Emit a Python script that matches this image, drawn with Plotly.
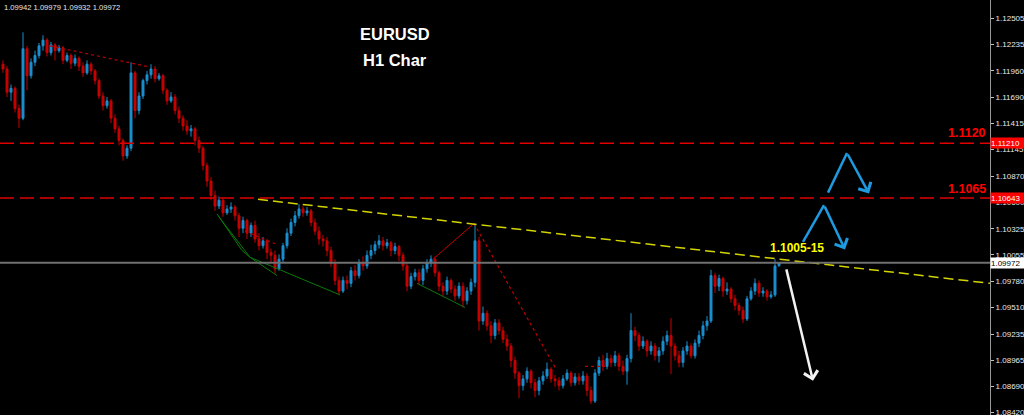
import plotly.graph_objects as go

# ---------------- data (EURUSD H1) ----------------
bar_index = list(range(195))

open_ = [
    1.1203, 1.1198, 1.1174, 1.1178, 1.1157, 1.1147, 1.1219, 1.1191, 1.1205, 1.1212,
    1.1222, 1.1228, 1.1215, 1.1223, 1.1217, 1.1220, 1.1207, 1.1212, 1.1204, 1.1209,
    1.1201, 1.1194, 1.1203, 1.1196, 1.1186, 1.1170, 1.1160, 1.1165, 1.1147, 1.1136,
    1.1124, 1.1108, 1.1116, 1.1194, 1.1155, 1.1170, 1.1186, 1.1192, 1.1198, 1.1188,
    1.1191, 1.1176, 1.1165, 1.1169, 1.1155, 1.1147, 1.1139, 1.1134, 1.1136, 1.1124,
    1.1116, 1.1098, 1.1082, 1.1067, 1.1056, 1.1062, 1.1049, 1.1053, 1.1055, 1.1046,
    1.1033, 1.1041, 1.1028, 1.1036, 1.1022, 1.1015, 1.1020, 1.1008, 1.1005, 1.0991,
    1.1001, 1.1015, 1.1028, 1.1039, 1.1046, 1.1053, 1.1049, 1.1051, 1.1039, 1.1030,
    1.1022, 1.1020, 1.1010, 1.0997, 1.0979, 1.0968, 1.0979, 1.0976, 1.0989, 1.0984,
    1.0997, 1.0994, 1.1005, 1.1010, 1.1016, 1.1020, 1.1015, 1.1018, 1.1010, 1.1014,
    1.1005, 1.0994, 1.0973, 1.0983, 1.0987, 1.0979, 1.0991, 1.0997, 1.1001, 1.0987,
    1.0973, 1.0968, 1.0979, 1.0970, 1.0963, 1.0973, 1.0958, 1.0968, 1.0977, 1.1020,
    1.0937, 1.0945, 1.0932, 1.0922, 1.0935, 1.0927, 1.0918, 1.0911, 1.0896, 1.0883,
    1.0870, 1.0877, 1.0885, 1.0873, 1.0865, 1.0875, 1.0880, 1.0887, 1.0877, 1.0875,
    1.0870, 1.0877, 1.0883, 1.0873, 1.0879, 1.0875, 1.0880, 1.0865, 1.0854, 1.0883,
    1.0896, 1.0890, 1.0898, 1.0894, 1.0901, 1.0890, 1.0885, 1.0898, 1.0927, 1.0922,
    1.0911, 1.0916, 1.0906, 1.0911, 1.0901, 1.0906, 1.0916, 1.0922, 1.0911, 1.0901,
    1.0894, 1.0906, 1.0911, 1.0901, 1.0914, 1.0922, 1.0932, 1.0937, 1.0984, 1.0973,
    1.0981, 1.0968, 1.0970, 1.0960, 1.0953, 1.0948, 1.0939, 1.0960, 1.0968, 1.0976,
    1.0966, 1.0968, 1.0962, 1.0964, 1.09942,
]

high = [
    1.1207, 1.1201, 1.1182, 1.1180, 1.1161, 1.1236, 1.1222, 1.1209, 1.1217, 1.1225,
    1.1233, 1.1230, 1.1226, 1.1225, 1.1223, 1.1222, 1.1215, 1.1214, 1.1213, 1.1211,
    1.1205, 1.1207, 1.1205, 1.1198, 1.1188, 1.1174, 1.1169, 1.1167, 1.1151, 1.1139,
    1.1126, 1.1119, 1.1205, 1.1196, 1.1174, 1.1188, 1.1196, 1.1203, 1.1201, 1.1194,
    1.1193, 1.1178, 1.1174, 1.1172, 1.1159, 1.1150, 1.1145, 1.1140, 1.1138, 1.1128,
    1.1118, 1.1101, 1.1086, 1.1072, 1.1066, 1.1064, 1.1057, 1.1060, 1.1057, 1.1049,
    1.1045, 1.1043, 1.1039, 1.1041, 1.1028, 1.1024, 1.1022, 1.1012, 1.1010, 1.1006,
    1.1018, 1.1033, 1.1043, 1.1051, 1.1058, 1.1056, 1.1055, 1.1053, 1.1043, 1.1035,
    1.1026, 1.1024, 1.1014, 1.1001, 1.0983, 1.0983, 1.0984, 1.0993, 1.0995, 1.1001,
    1.1004, 1.1010, 1.1016, 1.1020, 1.1026, 1.1024, 1.1022, 1.1020, 1.1018, 1.1016,
    1.1008, 1.0997, 1.0987, 1.0991, 1.0991, 1.0995, 1.1001, 1.1005, 1.1004, 1.0989,
    1.0977, 1.0983, 1.0981, 1.0974, 1.0977, 1.0977, 1.0972, 1.0981, 1.1038, 1.1024,
    1.0952, 1.0948, 1.0937, 1.0939, 1.0939, 1.0931, 1.0923, 1.0914, 1.0900, 1.0885,
    1.0881, 1.0889, 1.0887, 1.0877, 1.0879, 1.0885, 1.0894, 1.0889, 1.0881, 1.0879,
    1.0881, 1.0887, 1.0885, 1.0883, 1.0883, 1.0885, 1.0883, 1.0869, 1.0887, 1.0900,
    1.0902, 1.0904, 1.0902, 1.0906, 1.0904, 1.0896, 1.0902, 1.0945, 1.0931, 1.0925,
    1.0921, 1.0918, 1.0916, 1.0914, 1.0910, 1.0921, 1.0927, 1.0940, 1.0914, 1.0906,
    1.0910, 1.0916, 1.0914, 1.0918, 1.0927, 1.0937, 1.0942, 1.0990, 1.0987, 1.0985,
    1.0983, 1.0977, 1.0972, 1.0964, 1.0956, 1.0952, 1.0963, 1.0972, 1.0981, 1.0979,
    1.0972, 1.0970, 1.0968, 1.1001, 1.09979,
]

low = [
    1.1194, 1.1169, 1.1165, 1.1153, 1.1137, 1.1145, 1.1176, 1.1188, 1.1201, 1.1209,
    1.1217, 1.1211, 1.1212, 1.1207, 1.1215, 1.1203, 1.1205, 1.1198, 1.1201, 1.1196,
    1.1190, 1.1192, 1.1192, 1.1182, 1.1167, 1.1155, 1.1157, 1.1142, 1.1132, 1.1119,
    1.1103, 1.1105, 1.1113, 1.1147, 1.1151, 1.1167, 1.1182, 1.1188, 1.1184, 1.1186,
    1.1172, 1.1161, 1.1163, 1.1151, 1.1142, 1.1134, 1.1130, 1.1128, 1.1119, 1.1111,
    1.1093, 1.1076, 1.1062, 1.1051, 1.1053, 1.1045, 1.1047, 1.1049, 1.1041, 1.1024,
    1.1028, 1.1022, 1.1024, 1.1018, 1.1010, 1.1012, 1.1001, 1.0997, 1.0986, 1.0989,
    1.0997, 1.1012, 1.1025, 1.1035, 1.1043, 1.1045, 1.1046, 1.1035, 1.1026, 1.1016,
    1.1014, 1.1004, 1.0993, 1.0974, 1.0965, 1.0966, 1.0970, 1.0972, 1.0979, 1.0981,
    1.0989, 1.0991, 1.1001, 1.1006, 1.1012, 1.1010, 1.1012, 1.1004, 1.1006, 1.0999,
    1.0989, 1.0968, 1.0970, 1.0979, 1.0974, 1.0974, 1.0987, 1.0993, 1.0983, 1.0968,
    1.0963, 1.0964, 1.0966, 1.0958, 1.0960, 1.0951, 1.0954, 1.0964, 1.0972, 1.0927,
    1.0933, 1.0927, 1.0914, 1.0918, 1.0923, 1.0914, 1.0906, 1.0889, 1.0877, 1.0857,
    1.0865, 1.0873, 1.0867, 1.0858, 1.0860, 1.0871, 1.0877, 1.0873, 1.0869, 1.0865,
    1.0867, 1.0875, 1.0869, 1.0870, 1.0871, 1.0871, 1.0859, 1.0851, 1.0852, 1.0880,
    1.0885, 1.0887, 1.0889, 1.0890, 1.0885, 1.0881, 1.0871, 1.0894, 1.0916, 1.0906,
    1.0908, 1.0900, 1.0902, 1.0896, 1.0894, 1.0902, 1.0912, 1.0882, 1.0896, 1.0889,
    1.0889, 1.0902, 1.0898, 1.0898, 1.0910, 1.0918, 1.0927, 1.0935, 1.0966, 1.0968,
    1.0962, 1.0964, 1.0956, 1.0948, 1.0943, 1.0935, 1.0937, 1.0958, 1.0964, 1.0962,
    1.0962, 1.0958, 1.0960, 1.0962, 1.09932,
]

close = [
    1.1198, 1.1174, 1.1178, 1.1157, 1.1147, 1.1219, 1.1191, 1.1205, 1.1212, 1.1222,
    1.1228, 1.1215, 1.1223, 1.1217, 1.1220, 1.1207, 1.1212, 1.1204, 1.1209, 1.1201,
    1.1194, 1.1203, 1.1196, 1.1186, 1.1170, 1.1160, 1.1165, 1.1147, 1.1136, 1.1124,
    1.1108, 1.1116, 1.1194, 1.1155, 1.1170, 1.1186, 1.1192, 1.1198, 1.1188, 1.1191,
    1.1176, 1.1165, 1.1169, 1.1155, 1.1147, 1.1139, 1.1134, 1.1136, 1.1124, 1.1116,
    1.1098, 1.1082, 1.1067, 1.1056, 1.1062, 1.1049, 1.1053, 1.1055, 1.1046, 1.1033,
    1.1041, 1.1028, 1.1036, 1.1022, 1.1015, 1.1020, 1.1008, 1.1005, 1.0991, 1.1001,
    1.1015, 1.1028, 1.1039, 1.1046, 1.1053, 1.1049, 1.1051, 1.1039, 1.1030, 1.1022,
    1.1020, 1.1010, 1.0997, 1.0979, 1.0968, 1.0979, 1.0976, 1.0989, 1.0984, 1.0997,
    1.0994, 1.1005, 1.1010, 1.1016, 1.1020, 1.1015, 1.1018, 1.1010, 1.1014, 1.1005,
    1.0994, 1.0973, 1.0983, 1.0987, 1.0979, 1.0991, 1.0997, 1.1001, 1.0987, 1.0973,
    1.0968, 1.0979, 1.0970, 1.0963, 1.0973, 1.0958, 1.0968, 1.0977, 1.1020, 1.0937,
    1.0945, 1.0932, 1.0922, 1.0935, 1.0927, 1.0918, 1.0911, 1.0896, 1.0883, 1.0870,
    1.0877, 1.0885, 1.0873, 1.0865, 1.0875, 1.0880, 1.0887, 1.0877, 1.0875, 1.0870,
    1.0877, 1.0883, 1.0873, 1.0879, 1.0875, 1.0880, 1.0865, 1.0854, 1.0883, 1.0896,
    1.0890, 1.0898, 1.0894, 1.0901, 1.0890, 1.0885, 1.0898, 1.0927, 1.0922, 1.0911,
    1.0916, 1.0906, 1.0911, 1.0901, 1.0906, 1.0916, 1.0922, 1.0911, 1.0901, 1.0894,
    1.0906, 1.0911, 1.0901, 1.0914, 1.0922, 1.0932, 1.0937, 1.0984, 1.0973, 1.0981,
    1.0968, 1.0970, 1.0960, 1.0953, 1.0948, 1.0939, 1.0960, 1.0968, 1.0976, 1.0966,
    1.0968, 1.0962, 1.0964, 1.0994, 1.09972,
]

header_text = "1.09942 1.09979 1.09932 1.09972"
last_price = 1.09972
level_prices = [1.11210, 1.10643]
level_labels = ["1.1120", "1.1065"]
level_tags = ["1.11210", "1.10643"]

y_tick_vals = [1.12505, 1.12235, 1.11960, 1.11690, 1.11415, 1.11145, 1.10870, 1.10600,
               1.10325, 1.10055, 1.09780, 1.09510, 1.09235, 1.08965, 1.08690, 1.08420]
y_tick_text = ["1.12505", "1.12235", "1.11960", "1.11690", "1.11415", "1.11145", "1.10870", "1.10600",
               "1.10325", "1.10055", "1.09780", "1.09510", "1.09235", "1.08965", "1.08690", "1.08420"]

# drawn objects (bar index, price)
yellow_trend_x = [63.75, 246.75]
yellow_trend_y = [1.1063, 1.0976]
top_dotted_x = [11.75, 36.75]
top_dotted_y = [1.1222, 1.1200]
mid_dotted_x = [60.5, 68.0]
mid_dotted_y = [1.1030, 1.1017]
green_lines = [
    ([53.5, 59.75, 61.75], [1.1048, 1.1010, 1.1003]),
    ([53.75, 61.75], [1.1046, 1.1003]),
    ([61.75, 68.5], [1.1003, 1.0984]),
    ([61.75, 84.25], [1.1003, 1.0964]),
    ([103.5, 115.5], [1.0976, 1.0951]),
]
red_solid_x = [107.5, 117.75]
red_solid_y = [1.1001, 1.1038]
red_dotted_x = [117.75, 138.0]
red_dotted_y = [1.1038, 1.0889]
red_flat_x = [145.5, 150.5]
red_flat_y = [1.0890, 1.0890]
blue_arrow1_x = [200.0, 205.25, 210.5]
blue_arrow1_y = [1.1019, 1.1057, 1.1011]
blue_arrow2_x = [206.25, 211.0, 216.5]
blue_arrow2_y = [1.1070, 1.1111, 1.1069]
white_arrow_x = [195.75, 202.5]
white_arrow_y = [1.0992, 1.0875]
target_label = "1.1005-15"
target_label_pos = (198.5, 1.1013)

# ---------------- styles ----------------
UP = "#1a8fd0"
DN = "#c80000"
BLUE_ARROW = "#1e9be0"
SMALL = "Liberation Sans, Arial, sans-serif"
BOLD = "Arial, Liberation Sans, sans-serif"

fig = go.Figure()

fig.add_trace(go.Candlestick(
    x=bar_index, open=open_, high=high, low=low, close=close,
    increasing=dict(line=dict(color=UP, width=1), fillcolor=UP),
    decreasing=dict(line=dict(color=DN, width=1), fillcolor=DN),
    whiskerwidth=0, showlegend=False, hoverinfo="skip",
))


def add_line(xs, ys, color, width=1, dash="solid"):
    fig.add_trace(go.Scatter(x=xs, y=ys, mode="lines", showlegend=False, hoverinfo="skip",
                             line=dict(color=color, width=width, dash=dash)))


add_line(top_dotted_x, top_dotted_y, "#b40000", 1.2, "dot")
add_line(mid_dotted_x, mid_dotted_y, "#c00000", 1.2, "dot")
for gx, gy in green_lines:
    add_line(gx, gy, "#0a7a0a", 1)
add_line(red_solid_x, red_solid_y, "#c00000", 1)
add_line(red_dotted_x, red_dotted_y, "#c00000", 1.2, "dot")
add_line(red_flat_x, red_flat_y, "#c00000", 1.2, "dot")
add_line(yellow_trend_x, yellow_trend_y, "#d4d400", 1.5, "10px,5px")

# arrow bodies (all but final segment), then arrow annotations on final segment
add_line(blue_arrow1_x[:2], blue_arrow1_y[:2], BLUE_ARROW, 2.5)
add_line(blue_arrow2_x[:2], blue_arrow2_y[:2], BLUE_ARROW, 2.5)

shapes = []
for lp in level_prices:
    shapes.append(dict(type="line", xref="paper", x0=0, x1=1, yref="y", y0=lp, y1=lp,
                       line=dict(color="#e00000", width=1.5, dash="14px,6px")))
shapes.append(dict(type="line", xref="paper", x0=0, x1=1, yref="y", y0=last_price, y1=last_price,
                   line=dict(color="#707070", width=2)))

annotations = []
for ax_, ay_, col in [(blue_arrow1_x, blue_arrow1_y, BLUE_ARROW),
                      (blue_arrow2_x, blue_arrow2_y, BLUE_ARROW),
                      (white_arrow_x, white_arrow_y, "#f2f2f2")]:
    annotations.append(dict(x=ax_[-1], y=ay_[-1], ax=ax_[-2], ay=ay_[-2], xref="x", yref="y",
                            axref="x", ayref="y", showarrow=True, arrowhead=4, arrowsize=1.1,
                            arrowwidth=2.5, arrowcolor=col, standoff=0, text=""))

annotations += [
    dict(text="<b>EURUSD</b>", xref="paper", yref="paper", x=0.399, y=0.918, xanchor="center",
         yanchor="middle", showarrow=False, font=dict(family=BOLD, size=16.5, color="#ffffff")),
    dict(text="<b>H1 Char</b>", xref="paper", yref="paper", x=0.399, y=0.855, xanchor="center",
         yanchor="middle", showarrow=False, font=dict(family=BOLD, size=16.5, color="#ffffff")),
    dict(text="<b>" + target_label + "</b>", xref="x", yref="y", x=target_label_pos[0],
         y=target_label_pos[1], showarrow=False, font=dict(family=BOLD, size=12, color="#ffff00")),
    dict(text=header_text, xref="paper", yref="paper", x=0.002, y=1, xanchor="left", yanchor="top",
         yshift=-1, showarrow=False, font=dict(family=SMALL, size=7.6, color="#e8e8e8")),
]
for lp, lab, shift in zip(level_prices, level_labels, [10, 9]):
    annotations.append(dict(text="<b>" + lab + "</b>", xref="paper", yref="y", x=1.0, y=lp,
                            xanchor="right", xshift=-2, yanchor="middle", yshift=shift,
                            showarrow=False, font=dict(family=BOLD, size=12.5, color="#ff0000")))
for lp, tag in zip(level_prices, level_tags):
    annotations.append(dict(text=tag, xref="paper", yref="y", x=1, y=lp, xanchor="left",
                            yanchor="middle", showarrow=False, bgcolor="#ff0000", borderpad=0,
                            width=33, height=10, align="left",
                            font=dict(family=SMALL, size=8, color="#ffffff")))
annotations.append(dict(text=f"{last_price:.5f}", xref="paper", yref="y", x=1, y=last_price,
                        xanchor="left", yanchor="middle", showarrow=False, bgcolor="#ffffff",
                        borderpad=0, width=33, height=10, align="left",
                        font=dict(family=SMALL, size=8, color="#000000")))

fig.update_layout(
    width=1024, height=415,
    margin=dict(l=0, r=34, t=0, b=0, autoexpand=False),
    paper_bgcolor="#000000", plot_bgcolor="#000000",
    showlegend=False,
    shapes=shapes, annotations=annotations,
    xaxis=dict(range=[-0.75, 246.75], visible=False, rangeslider=dict(visible=False),
               fixedrange=True, automargin=False),
    yaxis=dict(side="right", range=[1.08396, 1.12695], tickvals=y_tick_vals, ticktext=y_tick_text,
               showgrid=False, zeroline=False, showline=True, linecolor="#9a9a9a", linewidth=1,
               ticks="outside", ticklen=3, tickcolor="#c0c0c0", automargin=False,
               ticklabeloverflow="allow",
               tickfont=dict(family=SMALL, size=8, color="#e8e8e8"), fixedrange=True),
)

fig.write_html("out.html", config={"displayModeBar": False, "staticPlot": True},
               post_script="document.body.style.margin='0';document.body.style.overflow='hidden';")
